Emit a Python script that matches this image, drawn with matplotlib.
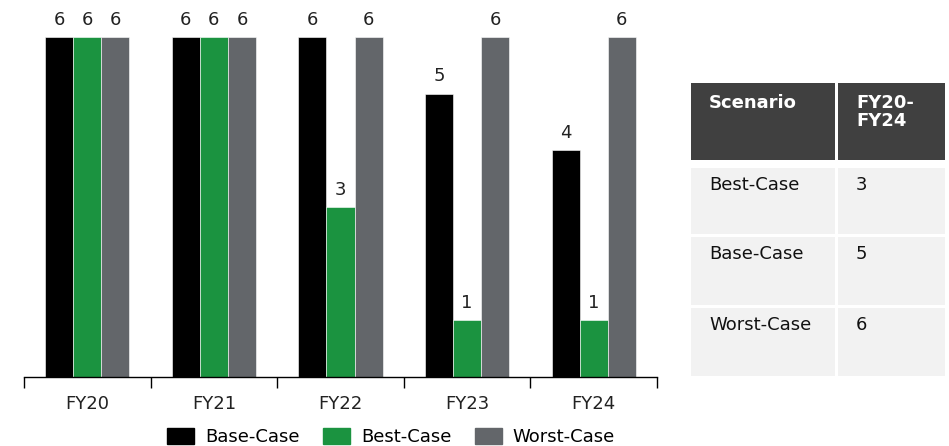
import numpy as np
import matplotlib
matplotlib.use("Agg")
import matplotlib.pyplot as plt
from matplotlib.patches import Patch, Rectangle

years = ["FY20", "FY21", "FY22", "FY23", "FY24"]
series_names = ["Base-Case", "Best-Case", "Worst-Case"]
base_case = [6, 6, 6, 5, 4]
best_case = [6, 6, 3, 1, 1]
worst_case = [6, 6, 6, 6, 6]

table_header = ["Scenario", "FY20-\nFY24"]
table_rows = [["Best-Case", "3"], ["Base-Case", "5"], ["Worst-Case", "6"]]

COLORS = ["#000000", "#1b9340", "#63666a"]
W, H = 949, 446
FS = 13

plt.rcParams["font.family"] = ["DejaVu Sans"]

fig = plt.figure(figsize=(W / 100, H / 100), dpi=100)
ax = fig.add_axes([24 / W, 1 - 377 / H, (657 - 24) / W, (377 - 37) / H])

x = np.arange(len(years))
bw = 0.222
all_series = [base_case, best_case, worst_case]
for i, (vals, col) in enumerate(zip(all_series, COLORS)):
    pos = x + (i - 1) * bw
    bars = ax.bar(pos, vals, width=bw, color=col, edgecolor="white", linewidth=0.4)
    for b, v in zip(bars, vals):
        ax.annotate(str(v), (b.get_x() + b.get_width() / 2, v), xytext=(0, 6),
                    textcoords="offset points", ha="center", va="bottom",
                    fontsize=FS, color="#222222", annotation_clip=False)

ax.set_xlim(-0.5, len(years) - 0.5)
ax.set_ylim(0, 6)
ax.set_xticks(np.arange(-0.5, len(years)))
ax.set_xticklabels([])
ax.set_xticks(x, minor=True)
ax.set_xticklabels(years, minor=True, fontsize=FS, color="#222222")
ax.tick_params(axis="x", which="major", length=8, width=1, color="black", direction="out")
ax.tick_params(axis="x", which="minor", length=0, pad=13)
ax.set_yticks([])
for s in ["top", "right", "left"]:
    ax.spines[s].set_visible(False)
ax.spines["bottom"].set_linewidth(1)

# legend
handles = [Patch(facecolor=c, edgecolor=c) for c in COLORS]
fig.legend(handles, series_names, loc="center", bbox_to_anchor=(391 / W, 1 - 437 / H),
           ncol=3, frameon=False, fontsize=FS, handlelength=1.5, handleheight=1.0,
           handletextpad=0.6, columnspacing=1.3, borderpad=0.2)

# table drawn with figure patches
cols = [(691, 835), (838, 945)]
rows = [(83, 160), (168, 234), (237, 305), (308, 376)]


def add_cell(x0, x1, y0, y1, fc):
    fig.patches.append(Rectangle((x0 / W, 1 - y1 / H), (x1 - x0) / W, (y1 - y0) / H,
                                 transform=fig.transFigure, facecolor=fc, edgecolor="none"))


for ci, (c0, c1) in enumerate(cols):
    add_cell(c0, c1, rows[0][0], rows[0][1], "#404040")
    fig.text((c0 + 18) / W, 1 - (rows[0][0] + 11) / H, table_header[ci], color="white",
             fontsize=FS, fontweight="bold", ha="left", va="top", linespacing=1.0)
    for ri, (r0, r1) in enumerate(rows[1:]):
        add_cell(c0, c1, r0, r1, "#f2f2f2")
        fig.text((c0 + 18) / W, 1 - (r0 + 8) / H, table_rows[ri][ci], color="#111111",
                 fontsize=FS, ha="left", va="top")

fig.savefig("out.png", dpi=100, facecolor="white")
